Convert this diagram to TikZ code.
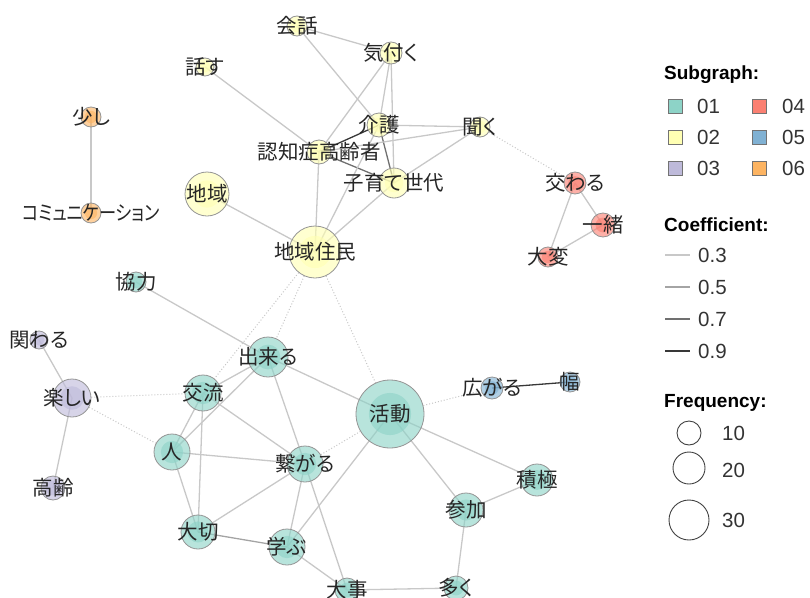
\documentclass[tikz,border=0pt]{standalone}
\usepackage{fontspec}
\setmainfont{Liberation Sans}
\newfontfamily\jpfont[RawFeature=+palt]{Noto Sans CJK JP}
\definecolor{cA}{HTML}{8DD3C7}
\definecolor{cB}{HTML}{FFFFB3}
\definecolor{cC}{HTML}{BEBADA}
\definecolor{cD}{HTML}{FB8072}
\definecolor{cE}{HTML}{80B1D3}
\definecolor{cF}{HTML}{FDB462}
\definecolor{eThree}{HTML}{C8C8C8}
\definecolor{eFive}{HTML}{A4A4A4}
\definecolor{eSeven}{HTML}{707070}
\definecolor{eNine}{HTML}{383838}
\pgfdeclarelayer{bg}
\pgfsetlayers{bg,main}
\tikzset{
  kwcirc/.style={circle, draw=black!42, line width=0.8pt, fill opacity=0.62, inner sep=0pt},
  kwlab/.style={font=\jpfont\fontsize{20.5}{22}\selectfont, text=black!85, inner sep=0pt},
  eLow/.style={draw=eThree, line width=1.3pt},
  eMid/.style={draw=eFive, line width=1.3pt},
  eHigh/.style={draw=eSeven, line width=1.3pt},
  eTop/.style={draw=eNine, line width=1.3pt},
  eDot/.style={draw=black!22, line width=1pt, dotted},
  legsq/.style={draw=black!55, line width=0.8pt, minimum size=14pt, inner sep=0pt},
  leghead/.style={font=\bfseries\fontsize{19}{21}\selectfont, anchor=west, inner sep=0pt},
  legtxt/.style={font=\fontsize{20.5}{22}\selectfont, text=black!80, anchor=west, inner sep=0pt},
  legcirc/.style={circle, draw=black!75, line width=0.9pt, inner sep=0pt},
}
\newcommand\kwnode[5]{%
  \node[kwcirc, fill=#5, minimum size={2*#4pt}] (#1) at (#2,#3) {};
  \fill[#5, fill opacity=0.62] (#1.center) circle[radius={0.62*#4pt}];
}
\newcommand\kwlabel[3][]{\node[kwlab,#1] (#2l) at (#2) {#3};}
\begin{document}
\begin{tikzpicture}[x=1pt,y=-1pt]
\useasboundingbox (0,0) rectangle (810,597);
% nodes
\kwnode{kaiwa}{297}{26}{10}{cB}
\kwnode{kiduku}{391}{53}{11}{cB}
\kwnode{hanasu}{205}{67}{9}{cB}
\kwnode{sukoshi}{91}{117}{10}{cF}
\kwnode{kaigo}{379}{125}{12}{cB}
\kwnode{kiku}{480}{127}{10}{cB}
\kwnode{ninchi}{319}{152}{12}{cB}
\kwnode{kosodate}{394}{183}{15}{cB}
\kwnode{chiiki}{207}{194}{22}{cB}
\kwnode{comm}{91}{213}{10}{cF}
\kwnode{majiwaru}{575}{183}{11}{cD}
\kwnode{issho}{603}{225}{12}{cD}
\kwnode{taihen}{548}{257}{10}{cD}
\kwnode{jumin}{315}{252}{26}{cB}
\kwnode{kyoryoku}{136}{282}{10}{cA}
\kwnode{kakawaru}{39}{340}{9}{cC}
\kwnode{dekiru}{268}{357}{20}{cA}
\kwnode{tanoshii}{72}{398}{19}{cC}
\kwnode{koryu}{203}{393}{18}{cA}
\kwnode{katsudo}{390}{414}{34}{cA}
\kwnode{hirogaru}{492}{388}{11}{cE}
\kwnode{haba}{570}{382}{10}{cE}
\kwnode{hito}{172}{452}{18}{cA}
\kwnode{tsunagaru}{305}{464}{18}{cA}
\kwnode{sekkyoku}{537}{480}{16}{cA}
\kwnode{korei}{53}{488}{12}{cC}
\kwnode{sanka}{466}{510}{17}{cA}
\kwnode{taisetsu}{198}{532}{17}{cA}
\kwnode{manabu}{287}{547}{18}{cA}
\kwnode{daiji}{347}{590}{12}{cA}
\kwnode{ooku}{456}{588}{12}{cA}
% labels
\kwlabel{kaiwa}{会話}
\kwlabel{kiduku}{気付く}
\kwlabel{hanasu}{話す}
\kwlabel{sukoshi}{少し}
\kwlabel{kaigo}{介護}
\kwlabel{kiku}{聞く}
\kwlabel{ninchi}{認知症高齢者}
\kwlabel{kosodate}{子育て世代}
\kwlabel{chiiki}{地域}
\kwlabel[xscale=0.84, transform shape]{comm}{コミュニケーション}
\kwlabel{majiwaru}{交わる}
\kwlabel{issho}{一緒}
\kwlabel{taihen}{大変}
\kwlabel{jumin}{地域住民}
\kwlabel{kyoryoku}{協力}
\kwlabel{kakawaru}{関わる}
\kwlabel{dekiru}{出来る}
\kwlabel{tanoshii}{楽しい}
\kwlabel{koryu}{交流}
\kwlabel{katsudo}{活動}
\kwlabel{hirogaru}{広がる}
\kwlabel{haba}{幅}
\kwlabel{hito}{人}
\kwlabel{tsunagaru}{繋がる}
\kwlabel{sekkyoku}{積極}
\kwlabel{korei}{高齢}
\kwlabel{sanka}{参加}
\kwlabel{taisetsu}{大切}
\kwlabel{manabu}{学ぶ}
\kwlabel{daiji}{大事}
\kwlabel{ooku}{多く}
% edges
\begin{pgfonlayer}{bg}
\draw[eLow] (kaiwa.center) -- (kiduku.center);
\draw[eLow] (kaiwa.center) -- (kaigo.center);
\draw[eLow] (hanasu.center) -- (ninchi.center);
\draw[eLow] (kiduku.center) -- (ninchi.center);
\draw[eLow] (kiduku.center) -- (kaigo.center);
\draw[eLow] (kiduku.center) -- (kosodate.center);
\draw[eLow] (kaigo.center) -- (kiku.center);
\draw[eTop] (kaigo.center) -- (ninchi.center);
\draw[eHigh] (kaigo.center) -- (kosodate.center);
\draw[eHigh] (ninchi.center) -- (kosodate.center);
\draw[eLow] (ninchi.center) -- (kiku.center);
\draw[eLow] (kosodate.center) -- (kiku.center);
\draw[eLow] (ninchi.center) -- (jumin.center);
\draw[eLow] (kaigo.center) -- (jumin.center);
\draw[eLow] (kosodate.center) -- (jumin.center);
\draw[eLow] (chiiki.center) -- (jumin.center);
\draw[eLow] (sukoshi.center) -- (comm.center);
\draw[eLow] (majiwaru.center) -- (issho.center);
\draw[eLow] (majiwaru.center) -- (taihen.center);
\draw[eLow] (issho.center) -- (taihen.center);
\draw[eTop] (hirogaru.center) -- (haba.center);
\draw[eLow] (kakawaru.center) -- (tanoshii.center);
\draw[eLow] (tanoshii.center) -- (korei.center);
\draw[eLow] (kyoryoku.center) -- (dekiru.center);
\draw[eLow] (dekiru.center) -- (koryu.center);
\draw[eLow] (dekiru.center) -- (hito.center);
\draw[eLow] (dekiru.center) -- (katsudo.center);
\draw[eLow] (dekiru.center) -- (tsunagaru.center);
\draw[eLow] (koryu.center) -- (hito.center);
\draw[eLow] (koryu.center) -- (taisetsu.center);
\draw[eLow] (koryu.center) -- (tsunagaru.center);
\draw[eLow] (hito.center) -- (tsunagaru.center);
\draw[eLow] (hito.center) -- (taisetsu.center);
\draw[eLow] (tsunagaru.center) -- (taisetsu.center);
\draw[eLow] (tsunagaru.center) -- (manabu.center);
\draw[eLow] (tsunagaru.center) -- (daiji.center);
\draw[eMid] (taisetsu.center) -- (manabu.center);
\draw[eLow] (manabu.center) -- (daiji.center);
\draw[eLow] (manabu.center) -- (katsudo.center);
\draw[eLow] (katsudo.center) -- (sekkyoku.center);
\draw[eLow] (katsudo.center) -- (sanka.center);
\draw[eLow] (sekkyoku.center) -- (sanka.center);
\draw[eLow] (sanka.center) -- (ooku.center);
\draw[eLow] (daiji.center) -- (ooku.center);
\draw[eDot] (kiku) -- (majiwaru);
\draw[eDot] (jumin) -- (koryu);
\draw[eDot] (jumin) -- (dekiru);
\draw[eDot] (jumin) -- (katsudo);
\draw[eDot] (tanoshii) -- (koryu);
\draw[eDot] (tanoshii) -- (hito);
\draw[eDot] (tsunagaru) -- (katsudo);
\draw[eDot] (katsudo) -- (hirogaru);
\end{pgfonlayer}
% legend
\node[leghead] (hsub) at (664,75) {Subgraph:};
\node[legsq, fill=cA] (s1) at (675,106) {};
\node[legtxt] (t1) at (697,106) {01};
\node[legsq, fill=cB] (s2) at (675,137) {};
\node[legtxt] (t2) at (697,137) {02};
\node[legsq, fill=cC] (s3) at (675,168) {};
\node[legtxt] (t3) at (697,168) {03};
\node[legsq, fill=cD] (s4) at (759,106) {};
\node[legtxt] (t4) at (782,106) {04};
\node[legsq, fill=cE] (s5) at (759,137) {};
\node[legtxt] (t5) at (782,137) {05};
\node[legsq, fill=cF] (s6) at (759,168) {};
\node[legtxt] (t6) at (782,168) {06};
\node[leghead] (hcoef) at (664,225) {Coefficient:};
\coordinate (ca1) at (665,255); \coordinate (cb1) at (690,255);
\coordinate (ca2) at (665,287); \coordinate (cb2) at (690,287);
\coordinate (ca3) at (665,319); \coordinate (cb3) at (690,319);
\coordinate (ca4) at (665,351); \coordinate (cb4) at (690,351);
\draw[eLow] (ca1) -- (cb1);
\draw[eMid] (ca2) -- (cb2);
\draw[eHigh] (ca3) -- (cb3);
\draw[eTop] (ca4) -- (cb4);
\node[legtxt] (c1) at (698,255) {0.3};
\node[legtxt] (c2) at (698,287) {0.5};
\node[legtxt] (c3) at (698,319) {0.7};
\node[legtxt] (c4) at (698,351) {0.9};
\node[leghead] (hfreq) at (664,403) {Frequency:};
\node[legcirc, minimum size=24pt] (f1) at (689,433) {};
\node[legcirc, minimum size=32pt] (f2) at (689,468) {};
\node[legcirc, minimum size=40pt] (f3) at (689,520) {};
\node[legtxt] (ft1) at (722,433) {10};
\node[legtxt] (ft2) at (722,470) {20};
\node[legtxt] (ft3) at (722,520) {30};
\end{tikzpicture}
\end{document}
